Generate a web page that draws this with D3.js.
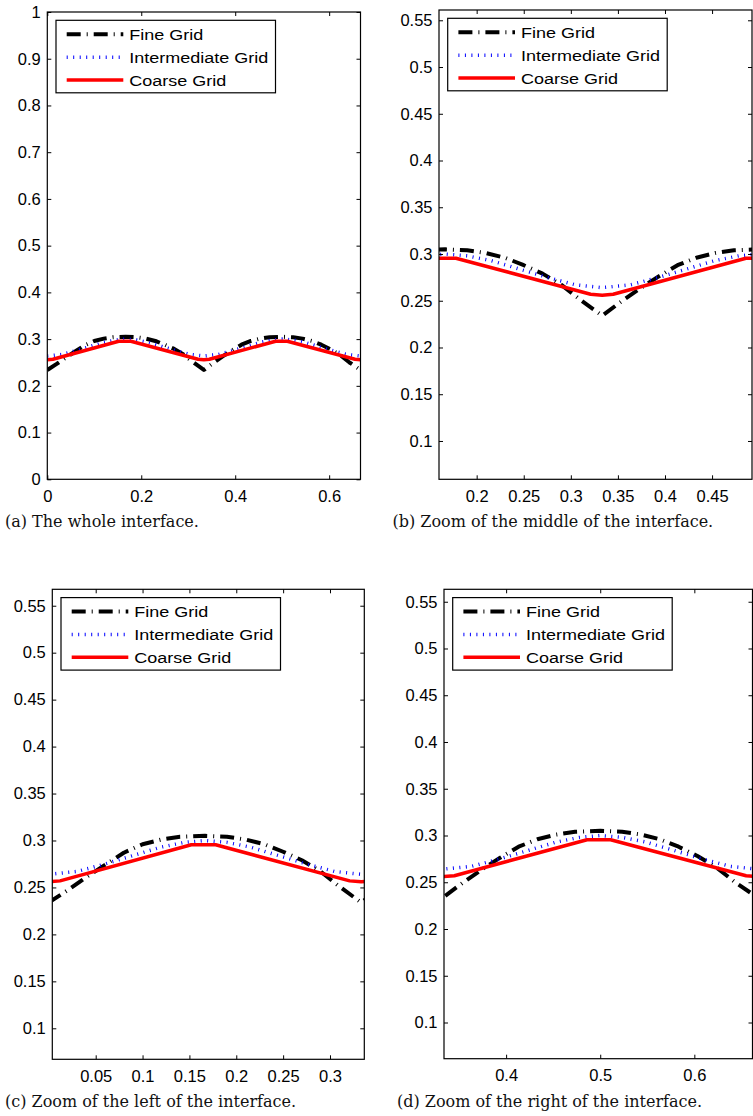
<!DOCTYPE html>
<html>
<head>
<meta charset="utf-8">
<style>
body { margin: 0; background: #fff; }
svg { display: block; }
</style>
</head>
<body>
<script src="https://d3js.org/d3.v7.min.js"></script>
<svg id="fig" width="753" height="1116"></svg>
<script>
// series (one full interface, x from 0 to 2/3)
const seriesNames = ["Fine Grid", "Intermediate Grid", "Coarse Grid"];

const fineX = [0, 0.02, 0.04, 0.06, 0.08, 0.10, 0.12, 0.14, 0.1667, 0.19, 0.21, 0.23, 0.25, 0.27, 0.29, 0.31, 0.3333,
               0.3533, 0.3733, 0.3933, 0.4133, 0.4333, 0.4533, 0.4733, 0.5, 0.5233, 0.5433, 0.5633, 0.5833, 0.6033, 0.6233, 0.6433, 0.6667];
const fineY = [0.234, 0.247, 0.261, 0.274, 0.287, 0.296, 0.301, 0.304, 0.305, 0.304, 0.301, 0.296, 0.288, 0.279, 0.267, 0.251, 0.234,
               0.249, 0.263, 0.276, 0.288, 0.296, 0.301, 0.304, 0.305, 0.304, 0.301, 0.296, 0.288, 0.278, 0.266, 0.250, 0.234];

const interX = [0, 0.03, 0.06, 0.09, 0.12, 0.145, 0.1667, 0.19, 0.215, 0.245, 0.275, 0.305, 0.3333,
                0.3633, 0.3933, 0.4233, 0.4533, 0.4783, 0.5, 0.5233, 0.5483, 0.5783, 0.6083, 0.6383, 0.6667];
const interY = [0.264, 0.267, 0.275, 0.284, 0.293, 0.298, 0.300, 0.298, 0.293, 0.284, 0.275, 0.267, 0.264,
                0.267, 0.275, 0.284, 0.293, 0.298, 0.300, 0.298, 0.293, 0.284, 0.275, 0.267, 0.264];

const coarseX = [0, 0.012, 0.152, 0.178, 0.321, 0.3333, 0.345, 0.486, 0.511, 0.655, 0.6667];
const coarseY = [0.256, 0.257, 0.2955, 0.2955, 0.257, 0.256, 0.257, 0.2955, 0.2955, 0.257, 0.256];

// tick labels
const yTicksWhole = [0, 0.1, 0.2, 0.3, 0.4, 0.5, 0.6, 0.7, 0.8, 0.9, 1];
const yTicksZoom = [0.1, 0.15, 0.2, 0.25, 0.3, 0.35, 0.4, 0.45, 0.5, 0.55];
const xTicksA = [0, 0.2, 0.4, 0.6];
const xTicksB = [0.2, 0.25, 0.3, 0.35, 0.4, 0.45];
const xTicksC = [0.05, 0.1, 0.15, 0.2, 0.25, 0.3];
const xTicksD = [0.4, 0.5, 0.6];

const captions = [
    "(a) The whole interface.",
    "(b) Zoom of the middle of the interface.",
    "(c) Zoom of the left of the interface.",
    "(d) Zoom of the right of the interface."
];

const series = [
    {name: seriesNames[0], xs: fineX, ys: fineY, color: "#000", width: 4, dash: "14,6,1,6"},
    {name: seriesNames[1], xs: interX, ys: interY, color: "#0000ff", width: 3.5, dash: "1,5.5"},
    {name: seriesNames[2], xs: coarseX, ys: coarseY, color: "#ff0000", width: 3.5, dash: null}
];

const panels = [
    {left: 47.3, right: 360.5, top: 12, bottom: 479.3, xDom: [0, 0.6667], yDom: [0, 1],
     xTicks: xTicksA, yTicks: yTicksWhole, caption: captions[0], capX: 5, capY: 527},
    {left: 439, right: 752, top: 10, bottom: 479.3, xDom: [0.160, 0.4924], yDom: [0.059, 0.561],
     xTicks: xTicksB, yTicks: yTicksZoom, caption: captions[1], capX: 392.5, capY: 527},
    {left: 52.3, right: 364.3, top: 589.3, bottom: 1059.3, xDom: [0.0037, 0.3366], yDom: [0.067, 0.5675],
     xTicks: xTicksC, yTicks: yTicksZoom, caption: captions[2], capX: 5, capY: 1107},
    {left: 444, right: 752.5, top: 589.3, bottom: 1058.7, xDom: [0.334, 0.6618], yDom: [0.0613, 0.5633],
     xTicks: xTicksD, yTicks: yTicksZoom, caption: captions[3], capX: 397, capY: 1107}
];

const svg = d3.select("#fig");
const fmt = d => String(d);

panels.forEach((p, i) => {
    const x = d3.scaleLinear().domain(p.xDom).range([p.left, p.right]);
    const y = d3.scaleLinear().domain(p.yDom).range([p.bottom, p.top]);
    const g = svg.append("g").attr("class", "panel");

    const clipId = "clip" + i;
    g.append("clipPath").attr("id", clipId)
        .append("rect")
        .attr("x", p.left).attr("y", p.top)
        .attr("width", p.right - p.left).attr("height", p.bottom - p.top);

    // curves
    const plot = g.append("g").attr("clip-path", `url(#${clipId})`);
    series.forEach(s => {
        const pts = s.xs.map((v, k) => [v, s.ys[k]]);
        plot.append("path")
            .attr("d", d3.line().x(d => x(d[0])).y(d => y(d[1]))(pts))
            .attr("fill", "none")
            .attr("stroke", s.color)
            .attr("stroke-width", s.width)
            .attr("stroke-dasharray", s.dash)
            .attr("stroke-linejoin", "round");
    });

    // axes, ticks pointing inwards on all four sides
    const tidy = a => a.call(s => s.select(".domain").remove())
        .attr("font-family", "'Liberation Sans', Arial, sans-serif")
        .attr("font-size", "16.5px");

    g.append("g").attr("transform", `translate(0,${p.bottom})`)
        .call(d3.axisBottom(x).tickValues(p.xTicks).tickFormat(fmt).tickSize(-4).tickPadding(10.8))
        .call(tidy);
    g.append("g").attr("transform", `translate(0,${p.top})`)
        .call(d3.axisTop(x).tickValues(p.xTicks).tickFormat("").tickSize(-4))
        .call(tidy);
    g.append("g").attr("transform", `translate(${p.left},0)`)
        .call(d3.axisLeft(y).tickValues(p.yTicks).tickFormat(fmt).tickSize(-4).tickPadding(6.5))
        .call(tidy);
    g.append("g").attr("transform", `translate(${p.right},0)`)
        .call(d3.axisRight(y).tickValues(p.yTicks).tickFormat("").tickSize(-4))
        .call(tidy);
    g.selectAll(".tick text").attr("fill", "#000");
    g.selectAll(".tick line").attr("stroke", "#000");

    g.append("rect")
        .attr("x", p.left).attr("y", p.top)
        .attr("width", p.right - p.left).attr("height", p.bottom - p.top)
        .attr("fill", "none").attr("stroke", "#000").attr("stroke-width", 1.2);

    // legend
    const lx = p.left + 8.7, ly = p.top + 8.3;
    const leg = g.append("g").attr("transform", `translate(${lx},${ly})`);
    leg.append("rect")
        .attr("width", 219.5).attr("height", 72.5)
        .attr("fill", "#fff").attr("stroke", "#000").attr("stroke-width", 1.2);
    const rowY = d3.scalePoint().domain(seriesNames).range([14, 59.7]);
    series.forEach(s => {
        leg.append("line")
            .attr("x1", 10.7).attr("x2", 67.3)
            .attr("y1", rowY(s.name)).attr("y2", rowY(s.name))
            .attr("stroke", s.color)
            .attr("stroke-width", s.width)
            .attr("stroke-dasharray", s.dash);
        leg.append("text")
            .attr("x", 73.3).attr("y", rowY(s.name)).attr("dy", "0.36em")
            .attr("font-family", "'Liberation Sans', Arial, sans-serif")
            .attr("font-size", "15.5px")
            .text(s.name)
            .attr("lengthAdjust", "spacingAndGlyphs")
            .attr("textLength", function() { return this.getComputedTextLength() * 1.16; });
    });

    // caption under the panel
    g.append("text")
        .attr("x", p.capX).attr("y", p.capY)
        .attr("font-family", "'DejaVu Serif', serif")
        .attr("font-size", "16px")
        .attr("fill", "#111")
        .text(p.caption);
});
</script>
</body>
</html>
